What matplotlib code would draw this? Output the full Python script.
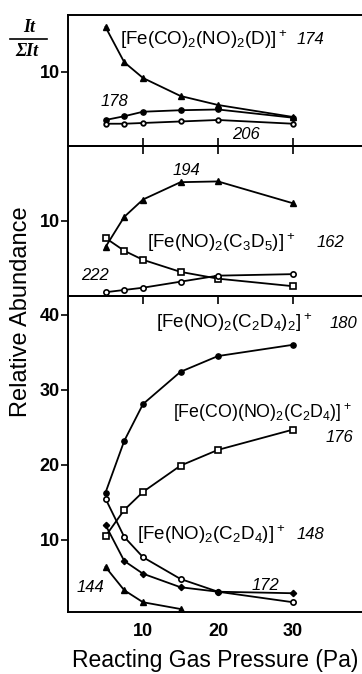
import matplotlib
matplotlib.use("Agg")
import matplotlib.pyplot as plt
from matplotlib.lines import Line2D

plt.rcParams['font.family'] = ['Liberation Sans', 'DejaVu Sans']
plt.rcParams['mathtext.default'] = 'regular'

# reacting gas pressure (Pa)
pressure = [5, 7.5, 10, 15, 20, 30]

# top panel
ion_174 = [16.0, 11.3, 9.2, 6.8, 5.6, 4.0]
ion_178 = [3.6, 4.1, 4.7, 4.9, 5.0, 3.9]
ion_206 = [3.1, 3.1, 3.2, 3.4, 3.6, 3.1]

# middle panel
ion_194 = [6.5, 10.5, 12.8, 15.1, 15.2, 12.3]
ion_162 = [7.7, 6.0, 4.8, 3.2, 2.3, 1.3]
ion_222 = [0.5, 0.8, 1.1, 1.9, 2.7, 2.9]

# bottom panel
ion_180 = [16.3, 23.2, 28.1, 32.4, 34.5, 36.0]
ion_176 = [10.5, 14.0, 16.4, 19.9, 22.0, 24.7]
ion_148 = [15.5, 10.4, 7.7, 4.8, 3.1, 1.7]
ion_172 = [12.0, 7.2, 5.5, 3.7, 3.1, 2.9]
pressure_144 = [5, 7.5, 10, 15]
ion_144 = [6.4, 3.3, 1.7, 0.8]

xticks = [10, 20, 30]

W, H = 362, 674
fig = plt.figure(figsize=(W / 100, H / 100), dpi=100)


def px_axes(top, bottom):
    # axes from pixel rows, left edge at x=68, running off the right side
    return fig.add_axes([68 / W, 1 - bottom / H, 1 - 68 / W, (bottom - top) / H])


ax1 = px_axes(15, 146)
ax2 = px_axes(146, 296)
ax3 = px_axes(296, 612)

ax1.set_ylim(0.13, 17.6)
ax2.set_ylim(0.0, 19.9)
ax3.set_ylim(0.4, 42.5)

tick_font = dict(family=['Liberation Sans Narrow', 'Liberation Sans'],
                 weight='bold', size=13, stretch='condensed')

for ax in (ax1, ax2, ax3):
    ax.set_xlim(0, 39.2)
    ax.patch.set_alpha(0)
    ax.spines['right'].set_visible(False)
    for s in ('left', 'top', 'bottom'):
        ax.spines[s].set_linewidth(1.4)
    ax.set_xticks(xticks)
    ax.tick_params(axis='y', direction='out', length=5, width=1.2, pad=1)
    ax.tick_params(axis='x', direction='in', length=6, width=1.2)

ax1.set_yticks([10])
ax2.set_yticks([10])
ax3.set_yticks([10, 20, 30, 40])
for ax in (ax1, ax2, ax3):
    ax.set_yticklabels([str(int(t)) for t in ax.get_yticks()], **tick_font)

ax1.tick_params(axis='x', bottom=True, top=False, labelbottom=False)
ax2.tick_params(axis='x', bottom=False, top=True, labelbottom=False)
ax3.tick_params(axis='x', bottom=False, top=True, labelbottom=True, pad=8)
ax3.set_xticklabels([str(t) for t in xticks], **tick_font)

lw = 1.3
ms = 3.8
k = 'black'

# top panel
ax1.plot(pressure, ion_174, '-^', color=k, lw=lw, ms=ms)
ax1.plot(pressure, ion_178, '-o', color=k, lw=lw, ms=ms)
ax1.plot(pressure, ion_206, '-o', color=k, lw=lw, ms=ms - 0.5, mfc='white', mew=1.3)

# middle panel
ax2.plot(pressure, ion_194, '-^', color=k, lw=lw, ms=ms)
ax2.plot(pressure, ion_162, '-s', color=k, lw=lw, ms=ms, mfc='white', mew=1.2)
ax2.plot(pressure, ion_222, '-o', color=k, lw=lw, ms=ms, mfc='white', mew=1.2)

# bottom panel
ax3.plot(pressure, ion_180, '-o', color=k, lw=lw, ms=ms)
ax3.plot(pressure, ion_176, '-s', color=k, lw=lw, ms=ms, mfc='white', mew=1.2)
ax3.plot(pressure, ion_148, '-o', color=k, lw=lw, ms=ms, mfc='white', mew=1.2)
ax3.plot(pressure, ion_172, '-D', color=k, lw=lw, ms=ms - 0.6)
ax3.plot(pressure_144, ion_144, '-^', color=k, lw=lw, ms=ms)

name_kw = dict(fontsize=13.5, va='center', ha='left', clip_on=False)
num_kw = dict(fontsize=12, va='center', ha='left', style='italic', clip_on=False)

ax1.text(6.9, 14.3, r'[Fe(CO)$_2$(NO)$_2$(D)]$^+$', **name_kw)
ax1.text(30.5, 14.3, '174', **num_kw)
ax1.text(4.3, 6.0, '178', **num_kw)
ax1.text(21.9, 1.6, '206', **num_kw)

ax2.text(14.0, 16.7, '194', **num_kw)
ax2.text(10.5, 7.1, r'[Fe(NO)$_2$(C$_3$D$_5$)]$^+$', **name_kw)
ax2.text(33.2, 7.1, '162', **num_kw)
ax2.text(1.8, 2.7, '222', **num_kw)

ax3.text(11.8, 38.9, r'[Fe(NO)$_2$(C$_2$D$_4$)$_2$]$^+$', **name_kw)
ax3.text(34.9, 38.9, '180', **num_kw)
# this one runs up to the right edge in the original
ax3.text(14.0, 26.9, r'[Fe(CO)(NO)$_2$(C$_2$D$_4$)]$^+$',
         **dict(name_kw, fontsize=12.8))
ax3.text(34.3, 23.6, '176', **num_kw)
ax3.text(9.2, 10.7, r'[Fe(NO)$_2$(C$_2$D$_4$)]$^+$', **name_kw)
ax3.text(30.5, 10.7, '148', **num_kw)
ax3.text(24.5, 3.9, '172', **num_kw)
ax3.text(1.2, 3.6, '144', **num_kw)

# axis titles
fig.text(21 / W, 1 - 312 / H, 'Relative Abundance', rotation=90,
         ha='center', va='center', fontsize=17)
fig.text(215 / W, 1 - 660 / H, 'Reacting Gas Pressure (Pa)',
         ha='center', va='center', fontsize=16.5)

# I/ΣI label at top left
frac_kw = dict(family='Liberation Serif', weight='bold', style='italic',
               fontsize=13, ha='center', va='center')
fig.text(29 / W, 1 - 28 / H, 'It', **frac_kw)
fig.text(27 / W, 1 - 51 / H, 'ΣIt', **frac_kw)
fig.add_artist(Line2D([10 / W, 47 / W], [1 - 39 / H, 1 - 39 / H],
                      color=k, lw=1.2, transform=fig.transFigure))

fig.savefig('out.png', dpi=100)
